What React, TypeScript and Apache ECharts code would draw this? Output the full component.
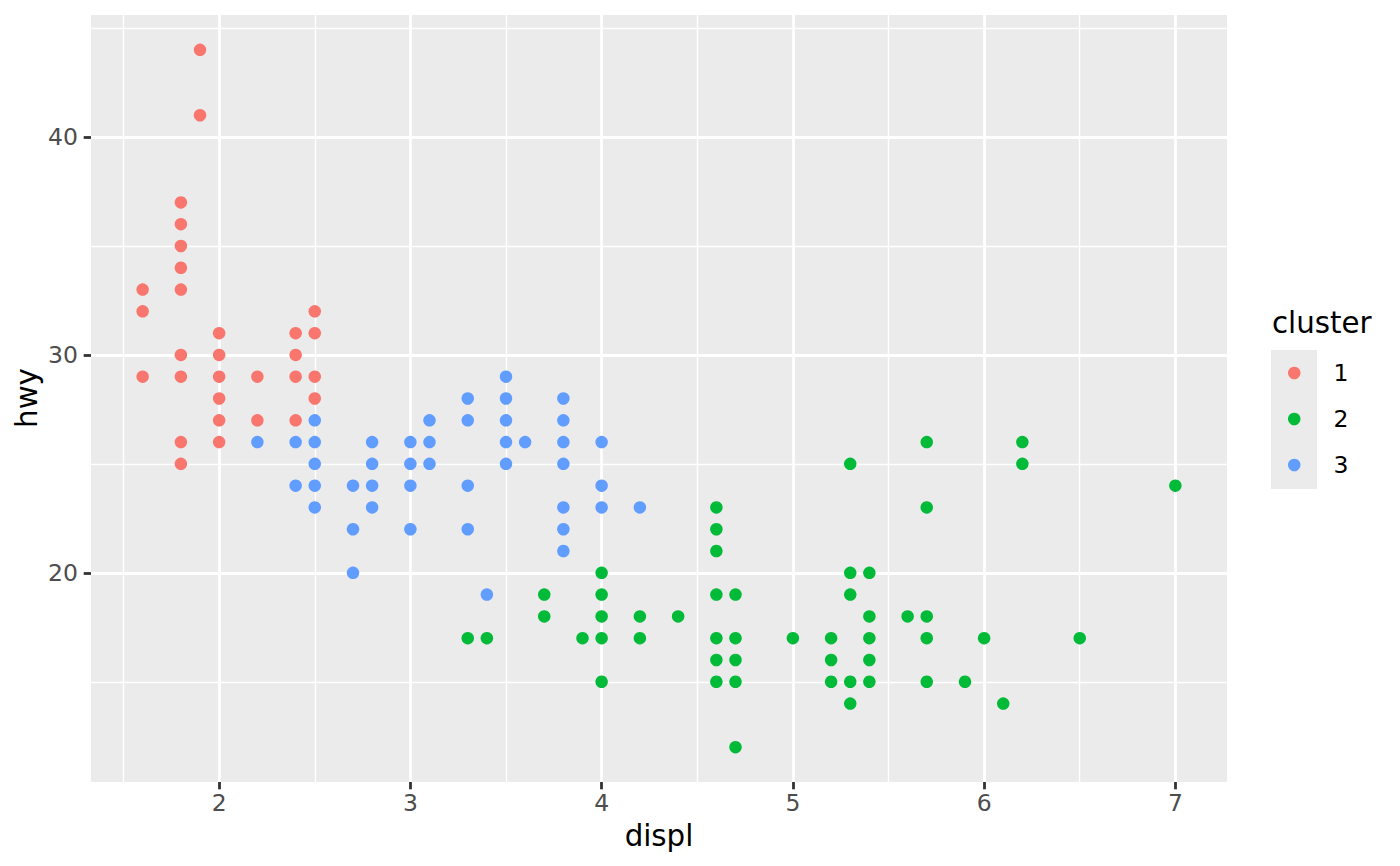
import React, { useEffect, useRef } from "react";
import * as echarts from "echarts";

// ---- data (displ, hwy), per cluster ----
const cluster1: number[][] = [
  [1.6, 33], [1.6, 32], [1.6, 29],
  [1.8, 37], [1.8, 36], [1.8, 35], [1.8, 34], [1.8, 33], [1.8, 30], [1.8, 29], [1.8, 26], [1.8, 25],
  [1.9, 44], [1.9, 41],
  [2.0, 31], [2.0, 30], [2.0, 29], [2.0, 28], [2.0, 27], [2.0, 26],
  [2.2, 29], [2.2, 27],
  [2.4, 31], [2.4, 30], [2.4, 29], [2.4, 27],
  [2.5, 32], [2.5, 31], [2.5, 29], [2.5, 28],
];
const cluster2: number[][] = [
  [3.3, 17], [3.4, 17], [3.7, 19], [3.7, 18], [3.9, 17],
  [4.0, 20], [4.0, 19], [4.0, 18], [4.0, 17], [4.0, 15],
  [4.2, 18], [4.2, 17], [4.4, 18],
  [4.6, 23], [4.6, 22], [4.6, 21], [4.6, 19], [4.6, 17], [4.6, 16], [4.6, 15],
  [4.7, 19], [4.7, 17], [4.7, 16], [4.7, 15], [4.7, 12],
  [5.0, 17],
  [5.2, 17], [5.2, 16], [5.2, 15],
  [5.3, 25], [5.3, 20], [5.3, 19], [5.3, 15], [5.3, 14],
  [5.4, 20], [5.4, 18], [5.4, 17], [5.4, 16], [5.4, 15],
  [5.6, 18],
  [5.7, 26], [5.7, 23], [5.7, 18], [5.7, 17], [5.7, 15],
  [5.9, 15], [6.0, 17], [6.1, 14], [6.2, 26], [6.2, 25], [6.5, 17], [7.0, 24],
];
const cluster3: number[][] = [
  [2.2, 26], [2.4, 26], [2.4, 24],
  [2.5, 27], [2.5, 26], [2.5, 25], [2.5, 24], [2.5, 23],
  [2.7, 24], [2.7, 22], [2.7, 20],
  [2.8, 26], [2.8, 25], [2.8, 24], [2.8, 23],
  [3.0, 26], [3.0, 25], [3.0, 24], [3.0, 22],
  [3.1, 27], [3.1, 26], [3.1, 25],
  [3.3, 28], [3.3, 27], [3.3, 24], [3.3, 22],
  [3.4, 19],
  [3.5, 29], [3.5, 28], [3.5, 27], [3.5, 26], [3.5, 25],
  [3.6, 26],
  [3.8, 28], [3.8, 27], [3.8, 26], [3.8, 25], [3.8, 23], [3.8, 22], [3.8, 21],
  [4.0, 26], [4.0, 24], [4.0, 23],
  [4.2, 23],
];
const clusterNames = ["1", "2", "3"];
const clusterColors = ["#F8766D", "#00BA38", "#619CFF"];

const xTicks = [2, 3, 4, 5, 6, 7];
const xMinor = [1.5, 2.5, 3.5, 4.5, 5.5, 6.5];
const yTicks = [20, 30, 40];
const yMinor = [15, 25, 35, 45];
const xRange = [1.33, 7.27];
const yRange = [10.4, 45.6];

const FONT = "DejaVu Sans";

export default function App() {
  const ref = useRef<HTMLDivElement>(null);
  useEffect(() => {
    if (!ref.current) return;
    const chart = echarts.init(ref.current, null, { renderer: "svg" });
    const clusters = [cluster1, cluster2, cluster3];
    const gridLine = (w: number) => ({ color: "#FFFFFF", width: w, type: "solid" as const });
    const markData = [
      ...xMinor.map((v) => ({ xAxis: v, lineStyle: gridLine(1.4) })),
      ...yMinor.map((v) => ({ yAxis: v, lineStyle: gridLine(1.4) })),
      ...xTicks.map((v) => ({ xAxis: v, lineStyle: gridLine(2.8) })),
      ...yTicks.map((v) => ({ yAxis: v, lineStyle: gridLine(2.8) })),
    ];
    chart.setOption({
      animation: false,
      grid: {
        left: 91, top: 15, width: 1136, height: 767,
        show: true, backgroundColor: "#EBEBEB", borderWidth: 0,
      },
      xAxis: {
        type: "value", min: xRange[0], max: xRange[1],
        axisLine: { show: false },
        splitLine: { show: false },
        axisTick: { show: true, length: 7.3, customValues: xTicks, lineStyle: { color: "#333333", width: 2.8 } },
        axisLabel: { customValues: xTicks, color: "#4D4D4D", fontSize: 23.5, fontFamily: FONT, margin: 9 },
      },
      yAxis: {
        type: "value", min: yRange[0], max: yRange[1],
        axisLine: { show: false },
        splitLine: { show: false },
        axisTick: { show: true, length: 7.3, customValues: yTicks, lineStyle: { color: "#333333", width: 2.8 } },
        axisLabel: { customValues: yTicks, color: "#4D4D4D", fontSize: 23.5, fontFamily: FONT, margin: 13 },
      },
      legend: {
        orient: "vertical", left: 1288, top: 350, padding: 0, itemGap: 0,
        itemWidth: 12.5, itemHeight: 12.5, icon: "circle", selectedMode: false,
        data: clusterNames,
        textStyle: { fontSize: 23.5, fontFamily: FONT, color: "#000000", lineHeight: 46, padding: [0, 0, 0, 28] },
      },
      graphic: [
        { type: "rect", z: 0, shape: { x: 1271, y: 350, width: 46, height: 139 }, style: { fill: "#EBEBEB" } },
        { type: "text", x: 1272, y: 323, style: { text: "cluster", fontSize: 29.3, fontFamily: FONT, fill: "#000000", verticalAlign: "middle", align: "left" } },
        { type: "text", x: 659, y: 836, style: { text: "displ", fontSize: 29.3, fontFamily: FONT, fill: "#000000", verticalAlign: "middle", align: "center" } },
        { type: "text", x: 27, y: 398, rotation: Math.PI / 2, style: { text: "hwy", fontSize: 29.3, fontFamily: FONT, fill: "#000000", verticalAlign: "middle", align: "center" } },
      ],
      series: [
        {
          type: "scatter", name: "grid", data: [], z: 1, silent: true,
          markLine: { z: 1, silent: true, symbol: "none", label: { show: false }, animation: false, data: markData },
        },
        ...clusters.map((d, i) => ({
          type: "scatter", name: clusterNames[i], data: d, z: 10,
          symbol: "circle", symbolSize: 12.5,
          itemStyle: { color: clusterColors[i], opacity: 1 },
        })),
      ],
    });
    return () => chart.dispose();
  }, []);
  return (
    <div
      ref={ref}
      style={{ position: "fixed", left: 0, top: 0, width: 1400, height: 866, background: "#FFFFFF" }}
    />
  );
}
